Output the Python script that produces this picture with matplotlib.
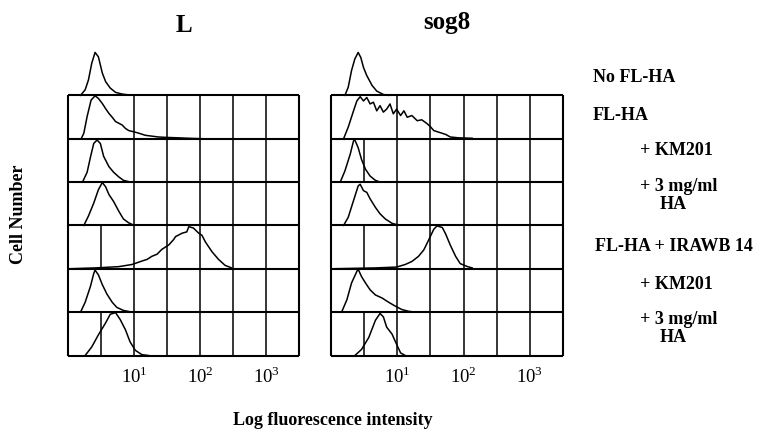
import matplotlib
matplotlib.use('Agg')
import matplotlib.pyplot as plt
import numpy as np

plt.rcParams['font.family'] = 'serif'
plt.rcParams['font.serif'] = ['Liberation Serif', 'DejaVu Serif']
plt.rcParams['mathtext.fontset'] = 'custom'
plt.rcParams['mathtext.rm'] = 'Liberation Serif'

# row labels (top to bottom)
row_labels = ["No FL-HA", "FL-HA", "+ KM201", "+ 3 mg/ml\nHA",
              "FL-HA + IRAWB 14", "+ KM201", "+ 3 mg/ml\nHA"]
panel_titles = ["L", "sog8"]
tick_vals = [10, 100, 1000]
tick_labels = ["$10^{1}$", "$10^{2}$", "$10^{3}$"]

# histograms: log10 intensity, relative cell number
# --- L cells ---
l_nofl_x = [0.19, 0.26, 0.31, 0.36, 0.41, 0.46, 0.52, 0.57, 0.64, 0.72, 0.82, 0.92]
l_nofl_h = [0.0, 0.13, 0.36, 0.75, 1.0, 0.9, 0.52, 0.32, 0.17, 0.07, 0.03, 0.01]
l_fl_x = [0.2, 0.24, 0.29, 0.35, 0.41, 0.46, 0.52, 0.57, 0.62, 0.67, 0.72, 0.77, 0.82,
          0.87, 0.92, 1.0, 1.07, 1.17, 1.27, 1.37, 1.5, 1.68, 1.83, 2.03]
l_fl_h = [0.0, 0.13, 0.52, 0.9, 1.0, 0.94, 0.82, 0.7, 0.59, 0.5, 0.4, 0.36, 0.32,
          0.24, 0.19, 0.16, 0.13, 0.08, 0.06, 0.04, 0.03, 0.02, 0.01, 0.0]
l_km_x = [0.22, 0.29, 0.34, 0.39, 0.44, 0.49, 0.54, 0.62, 0.69, 0.77, 0.84, 0.92]
l_km_h = [0.0, 0.23, 0.58, 0.9, 0.98, 0.9, 0.6, 0.36, 0.23, 0.12, 0.04, 0.01]
l_ha_x = [0.24, 0.31, 0.39, 0.46, 0.52, 0.57, 0.62, 0.69, 0.77, 0.84, 0.92, 0.99]
l_ha_h = [0.0, 0.22, 0.52, 0.83, 1.0, 0.9, 0.72, 0.56, 0.33, 0.15, 0.06, 0.01]
l_ir_x = [0.01, 0.41, 0.77, 0.97, 1.12, 1.2, 1.27, 1.35, 1.42, 1.53, 1.6, 1.63, 1.73,
          1.8, 1.83, 1.9, 1.98, 2.03, 2.08, 2.18, 2.28, 2.38, 2.48]
l_ir_h = [0.0, 0.02, 0.05, 0.1, 0.18, 0.22, 0.29, 0.34, 0.45, 0.56, 0.68, 0.75, 0.83,
          0.86, 0.98, 0.95, 0.83, 0.78, 0.63, 0.4, 0.22, 0.08, 0.02]
l_irkm_x = [0.19, 0.26, 0.34, 0.39, 0.41, 0.46, 0.52, 0.59, 0.67, 0.74, 0.84, 0.97]
l_irkm_h = [0.0, 0.23, 0.6, 0.9, 0.98, 0.87, 0.64, 0.42, 0.23, 0.11, 0.04, 0.0]
l_irha_x = [0.26, 0.36, 0.46, 0.57, 0.64, 0.72, 0.79, 0.87, 0.94, 1.02, 1.12, 1.22]
l_irha_h = [0.0, 0.2, 0.48, 0.76, 0.96, 1.0, 0.84, 0.6, 0.32, 0.12, 0.02, 0.0]

# --- sog8 cells ---
s_nofl_x = [0.21, 0.26, 0.31, 0.36, 0.41, 0.45, 0.49, 0.54, 0.62, 0.69, 0.79, 0.87]
s_nofl_h = [0.0, 0.19, 0.58, 0.85, 1.0, 0.88, 0.65, 0.46, 0.23, 0.1, 0.02, 0.0]
s_fl_x = [0.19, 0.26, 0.34, 0.39, 0.44, 0.49, 0.54, 0.59, 0.64, 0.69, 0.74, 0.79,
          0.84, 0.89, 0.94, 0.99, 1.05, 1.1, 1.15, 1.22, 1.3, 1.37, 1.45, 1.5,
          1.55, 1.63, 1.73, 1.8, 1.93, 2.13]
s_fl_h = [0.0, 0.27, 0.65, 0.88, 0.98, 0.88, 0.96, 0.81, 0.85, 0.65, 0.77, 0.62,
          0.69, 0.81, 0.58, 0.69, 0.54, 0.65, 0.5, 0.54, 0.42, 0.44, 0.35, 0.28,
          0.19, 0.15, 0.1, 0.04, 0.02, 0.01]
s_km_x = [0.14, 0.21, 0.29, 0.34, 0.36, 0.41, 0.46, 0.52, 0.59, 0.67, 0.74]
s_km_h = [0.0, 0.26, 0.65, 0.96, 0.98, 0.8, 0.53, 0.3, 0.14, 0.04, 0.0]
s_ha_x = [0.19, 0.26, 0.34, 0.41, 0.44, 0.49, 0.54, 0.59, 0.67, 0.74, 0.82, 0.92, 0.99]
s_ha_h = [0.0, 0.19, 0.58, 0.92, 0.96, 0.81, 0.77, 0.62, 0.42, 0.27, 0.15, 0.05, 0.02]
s_ir_x = [0.01, 0.67, 0.99, 1.12, 1.22, 1.32, 1.4, 1.47, 1.55, 1.6, 1.68, 1.73,
          1.8, 1.88, 1.95, 2.06, 2.13]
s_ir_h = [0.0, 0.02, 0.04, 0.1, 0.17, 0.29, 0.44, 0.66, 0.92, 1.0, 0.96, 0.81,
          0.55, 0.29, 0.12, 0.05, 0.02]
s_irkm_x = [0.16, 0.24, 0.31, 0.39, 0.41, 0.46, 0.52, 0.59, 0.67, 0.77, 0.87, 0.97,
            1.07, 1.17, 1.27]
s_irkm_h = [0.0, 0.29, 0.68, 0.95, 1.0, 0.83, 0.68, 0.52, 0.4, 0.33, 0.23, 0.14,
            0.06, 0.02, 0.0]
s_irha_x = [0.36, 0.46, 0.57, 0.67, 0.74, 0.79, 0.84, 0.92, 0.99, 1.05, 1.12]
s_irha_h = [0.0, 0.14, 0.42, 0.82, 0.98, 0.9, 0.66, 0.5, 0.26, 0.06, 0.0]

l_curves = [(l_nofl_x, l_nofl_h), (l_fl_x, l_fl_h), (l_km_x, l_km_h), (l_ha_x, l_ha_h),
            (l_ir_x, l_ir_h), (l_irkm_x, l_irkm_h), (l_irha_x, l_irha_h)]
s_curves = [(s_nofl_x, s_nofl_h), (s_fl_x, s_fl_h), (s_km_x, s_km_h), (s_ha_x, s_ha_h),
            (s_ir_x, s_ir_h), (s_irkm_x, s_irkm_h), (s_irha_x, s_irha_h)]

# rows that show the 10^0.5 grid line
l_half_rows = [4, 6]
s_half_rows = [2, 4, 6]

W, H = 766, 430
fig = plt.figure(figsize=(W / 100, H / 100), dpi=100)
XMAX = 10 ** 3.5
n_rows = len(row_labels)


def draw_panel(left, width, curves, half_rows, title, title_y):
    ax = fig.add_axes([left / W, 1 - 355.5 / H, width / W, 303.5 / H])
    ax.set_xscale('log')
    ax.set_xlim(1, XMAX)
    ax.set_ylim(0, n_rows)
    for s in ax.spines.values():
        s.set_visible(False)
    ax.set_yticks([])
    ax.minorticks_off()
    ax.set_xticks(tick_vals)
    ax.set_xticklabels(tick_labels, fontsize=13.5)
    ax.tick_params(axis='x', length=0, pad=8)

    boxed = n_rows - 1
    # outer box + row separators
    ax.hlines(range(boxed + 1), 1, XMAX, color='black', lw=1.5, clip_on=False)
    ax.vlines([1, XMAX], 0, boxed, color='black', lw=1.5, clip_on=False)
    for i in range(1, n_rows):
        base = n_rows - 1 - i
        xs = [10 ** 1.0, 10 ** 1.5, 10 ** 2.0, 10 ** 2.5, 10 ** 3.0]
        if i in half_rows:
            xs = [10 ** 0.5] + xs
        ax.vlines(xs, base, base + 1, color='black', lw=1.1)

    for i, (lx, h) in enumerate(curves):
        base = n_rows - 1 - i
        ax.plot(10 ** np.array(lx), base + 0.99 * np.array(h),
                color='black', lw=1.1, clip_on=False)

    fig.text((left + width / 2) / W, 1 - title_y / H, title, ha='center',
             va='baseline', fontsize=18, fontweight='bold')
    return ax


draw_panel(68, 231, l_curves, l_half_rows, panel_titles[0], 31.5)
draw_panel(331, 232, s_curves, s_half_rows, panel_titles[1], 28.5)

# condition labels on the right (left x, baseline y in pixels)
label_pos = [(593, 82), (593, 120), (640, 155), (640, 191),
             (595, 251), (640, 289), (640, 324)]
for lab, (px, py) in zip(row_labels, label_pos):
    first, *rest = lab.split("\n")
    fig.text(px / W, 1 - py / H, first, ha='left', va='baseline',
             fontsize=13, fontweight='bold')
    if rest:
        fig.text((px + 20) / W, 1 - (py + 18) / H, rest[0], ha='left',
                 va='baseline', fontsize=13, fontweight='bold')

fig.text(19 / W, 1 - 214 / H, "Cell Number", rotation=90, ha='center', va='center',
         fontsize=13, fontweight='bold')
fig.text(333 / W, 1 - 425 / H, "Log fluorescence intensity", ha='center',
         va='baseline', fontsize=13, fontweight='bold')

fig.savefig("out.png", dpi=100)
